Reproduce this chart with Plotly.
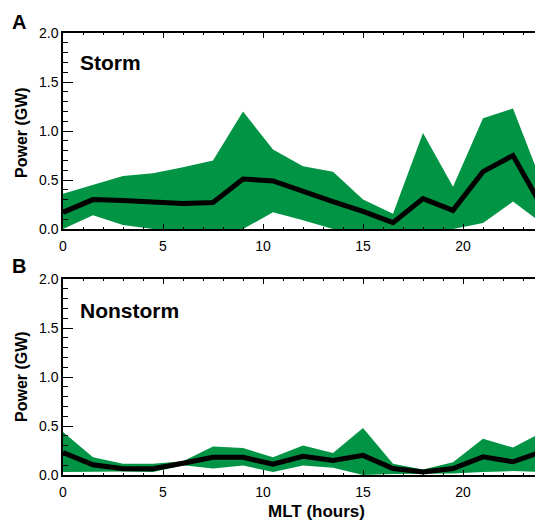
import plotly.graph_objects as go

# Magnetic local time bins (hours)
mlt = [0, 1.5, 3, 4.5, 6, 7.5, 9, 10.5, 12, 13.5, 15, 16.5, 18, 19.5, 21, 22.5, 24]

# Storm-time power (GW): mean and spread envelope
storm_mean = [0.17, 0.30, 0.29, 0.28, 0.26, 0.27, 0.51, 0.49, 0.38, 0.28, 0.18, 0.065, 0.31, 0.19, 0.585, 0.75, 0.21]
storm_upper = [0.36, 0.45, 0.54, 0.57, 0.63, 0.70, 1.20, 0.81, 0.64, 0.585, 0.30, 0.155, 0.98, 0.43, 1.13, 1.23, 0.44]
storm_lower = [0.0, 0.14, 0.04, 0.0, 0.0, 0.0, 0.0, 0.17, 0.09, 0.0, 0.0, 0.0, 0.0, 0.0, 0.06, 0.28, 0.05]

# Nonstorm power (GW): mean and spread envelope
quiet_mean = [0.23, 0.105, 0.063, 0.063, 0.12, 0.18, 0.18, 0.11, 0.19, 0.148, 0.20, 0.066, 0.03, 0.066, 0.185, 0.135, 0.24]
quiet_upper = [0.44, 0.18, 0.115, 0.115, 0.14, 0.29, 0.275, 0.18, 0.30, 0.225, 0.48, 0.115, 0.056, 0.13, 0.37, 0.28, 0.44]
quiet_lower = [0.03, 0.035, 0.035, 0.03, 0.10, 0.066, 0.097, 0.03, 0.097, 0.073, 0.0, 0.01, 0.015, 0.015, 0.03, 0.04, 0.03]

panels = [
    ("A", "Storm", storm_mean, storm_upper, storm_lower),
    ("B", "Nonstorm", quiet_mean, quiet_upper, quiet_lower),
]

GREEN = "rgb(0,148,68)"
FONT = "Liberation Sans"
W, H = 535, 520
ML, MR, MT, MB = 63, 0, 33, 45
PW, PH = W - ML - MR, H - MT - MB


def px_x(p):
    return (p - ML) / PW


def px_y(p):
    return (H - MB - p) / PH


def label(text, x, y, size, angle=0, xanchor="center"):
    fig.add_annotation(text=text, x=px_x(x), y=px_y(y), xref="paper", yref="paper",
                       xanchor=xanchor, yanchor="middle", textangle=angle, showarrow=False,
                       font=dict(size=size, color="black", family=FONT))


fig = go.Figure()
domains = [[px_y(229), 1.0], [0.0, px_y(279)]]
label_y = [(22, 62, 133), (266, 310, 377)]

for i, (letter, name, mean, upper, lower) in enumerate(panels):
    xa = "x" if i == 0 else "x2"
    ya = "y" if i == 0 else "y2"
    fig.add_trace(go.Scatter(x=mlt, y=lower, mode="lines", line=dict(width=0, color=GREEN),
                             hoverinfo="skip", showlegend=False, xaxis=xa, yaxis=ya))
    fig.add_trace(go.Scatter(x=mlt, y=upper, mode="lines", line=dict(width=0, color=GREEN),
                             fill="tonexty", fillcolor=GREEN, showlegend=False, xaxis=xa, yaxis=ya))
    fig.add_trace(go.Scatter(x=mlt, y=mean, mode="lines", line=dict(width=5, color="black"),
                             showlegend=False, xaxis=xa, yaxis=ya))

    ly, ny, ty = label_y[i]
    label(f"<b>{letter}</b>", 19, ly, 20)
    label(f"<b>{name}</b>", 78, ny, 21, xanchor="left")
    label("<b>Power (GW)</b>", 21, ty, 16, angle=-90)

label("<b>MLT (hours)</b>", 316, 512, 17)

xaxis_common = dict(
    range=[0, 23.6], tickvals=[0, 5, 10, 15, 20], ticks="inside", ticklen=5, tickwidth=1.2,
    tickcolor="black", showline=True, linecolor="black", linewidth=1.5, mirror="ticks",
    showgrid=False, zeroline=False, ticklabelstandoff=3,
    minor=dict(dtick=1, ticks="inside", ticklen=2.5, tickwidth=1, tickcolor="black"),
    tickfont=dict(size=14, color="black", family=FONT),
)
yaxis_common = dict(
    range=[0, 2.0], tickvals=[0, 0.5, 1.0, 1.5, 2.0], ticktext=["0.0", "0.5", "1.0", "1.5", "2.0"],
    ticks="inside", ticklen=10, tickwidth=1.2, tickcolor="black", showline=True,
    linecolor="black", linewidth=1.5, showgrid=False, zeroline=False,
    minor=dict(dtick=0.1, ticks="inside", ticklen=5, tickwidth=1, tickcolor="black"),
    tickfont=dict(size=14, color="black", family=FONT),
)

fig.update_layout(
    width=W, height=H,
    margin=dict(l=ML, r=MR, t=MT, b=MB),
    paper_bgcolor="white", plot_bgcolor="white",
    xaxis=dict(**xaxis_common, anchor="y"),
    yaxis=dict(**yaxis_common, domain=domains[0], anchor="x"),
    xaxis2=dict(**xaxis_common, anchor="y2"),
    yaxis2=dict(**yaxis_common, domain=domains[1], anchor="x2"),
)

fig.write_html("out.html")
